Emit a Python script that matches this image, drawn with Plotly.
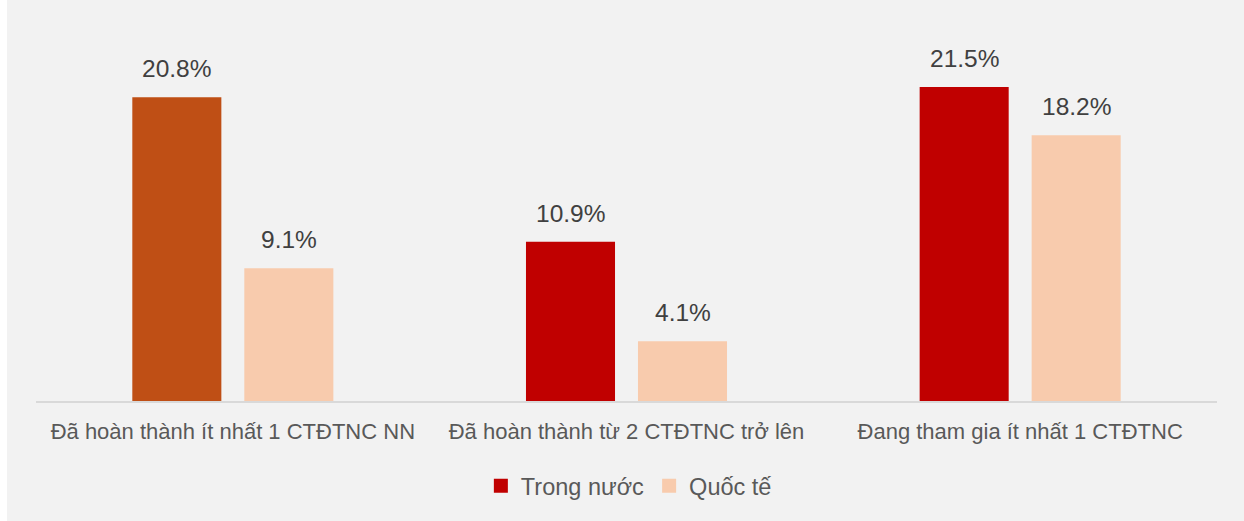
import plotly.graph_objects as go

# Data
categories = [
    "Đã hoàn thành ít nhất 1 CTĐTNC NN",
    "Đã hoàn thành từ 2 CTĐTNC trở lên",
    "Đang tham gia ít nhất 1 CTĐTNC",
]
trong_nuoc = [20.8, 10.9, 21.5]
quoc_te = [9.1, 4.1, 18.2]
series_names = ["Trong nước", "Quốc tế"]
bar_colors_trong_nuoc = ["#BF4F15", "#C00000", "#C00000"]
series_colors = ["#C00000", "#F8CBAD"]

W, H = 1244, 521
ML, MR, MT, MB = 36, 27, 36, 120

FONT = "Liberation Sans, Arial, sans-serif"
LABEL_COLOR = "#404040"
TICK_COLOR = "#595959"

fig = go.Figure()
fig.add_trace(go.Bar(
    x=categories, y=trong_nuoc, name=series_names[0], showlegend=False,
    marker=dict(color=bar_colors_trong_nuoc, line=dict(width=0)),
))
fig.add_trace(go.Bar(
    x=categories, y=quoc_te, name=series_names[1], showlegend=False,
    marker=dict(color=series_colors[1], line=dict(width=0)),
))

# legend entries with square swatches
for name, col in zip(series_names, series_colors):
    fig.add_trace(go.Scatter(
        x=[None], y=[None], mode="markers", name=name,
        marker=dict(symbol="square", size=14, color=col),
    ))

# value labels above each bar
slot_half = 56
for vals, shift in ((trong_nuoc, -slot_half), (quoc_te, slot_half)):
    for c, v in zip(categories, vals):
        fig.add_annotation(
            x=c, y=v, xref="x", yref="y", text=f"{v:.1f}%",
            showarrow=False, xshift=shift, yshift=13, yanchor="bottom",
            font=dict(family=FONT, size=24.5, color=LABEL_COLOR),
        )

# gray panel behind the chart
pw = W - ML - MR
ph = H - MT - MB
fig.add_shape(
    type="rect", xref="paper", yref="paper", layer="below",
    x0=(7 - ML) / pw, x1=(W - ML) / pw,
    y0=-(H - MT - ph) / ph, y1=(H - MT - 5) / ph,
    fillcolor="#F2F2F2", line=dict(width=0),
)

fig.update_layout(
    width=W, height=H,
    margin=dict(l=ML, r=MR, t=MT, b=MB),
    paper_bgcolor="white",
    plot_bgcolor="rgba(0,0,0,0)",
    barmode="group",
    bargap=0.431,
    bargroupgap=0.205,
    showlegend=True,
    legend=dict(
        orientation="h", x=0.502, xanchor="center", y=-0.233, yanchor="middle",
        font=dict(family=FONT, size=23.5, color=TICK_COLOR),
        bgcolor="rgba(0,0,0,0)", itemwidth=30, tracegroupgap=0,
    ),
    xaxis=dict(
        showgrid=False, showline=True, linecolor="#D9D9D9", linewidth=2,
        ticks="", ticklabelstandoff=10,
        tickfont=dict(family=FONT, size=22, color=TICK_COLOR),
    ),
    yaxis=dict(range=[0, 25], visible=False, showgrid=False, zeroline=False),
)

fig.write_html("out.html")
